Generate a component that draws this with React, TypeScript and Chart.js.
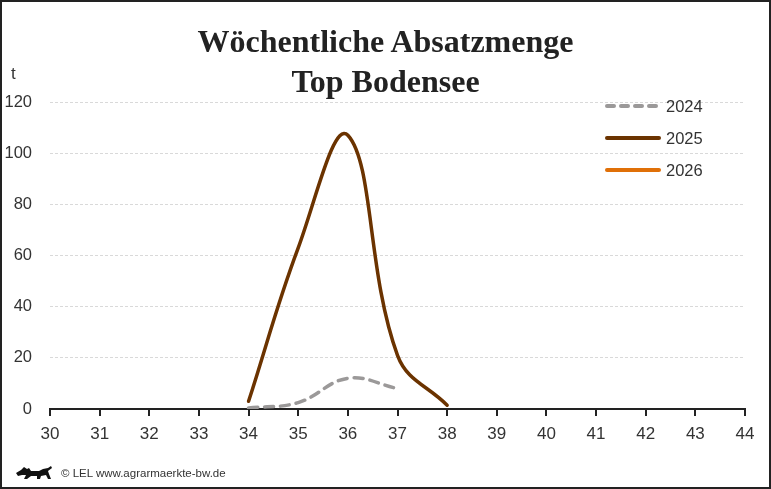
import React, { useEffect, useRef } from "react";
import { Chart, registerables } from "chart.js";

Chart.register(...registerables);

const weeks = ["30", "31", "32", "33", "34", "35", "36", "37", "38", "39", "40", "41", "42", "43", "44"];
const values2024 = [null, null, null, null, 0.4, 2.5, 12, 8, null, null, null, null, null, null, null];
const values2025 = [null, null, null, null, 3, 63, 107, 21, 1.5, null, null, null, null, null, null];
const values2026: (number | null)[] = [null, null, null, null, null, null, null, null, null, null, null, null, null, null, null];
const seriesNames = ["2024", "2025", "2026"];
const seriesColors = ["#9b9999", "#6b3300", "#e07008"];
const yTicks = [0, 20, 40, 60, 80, 100, 120];

const legendPlugin = {
  id: "customLegend",
  afterDraw(chart: any) {
    const ctx = chart.ctx;
    const x0 = 605;
    const ys = [106, 138, 170];
    ctx.save();
    chart.data.datasets.forEach((ds: any, i: number) => {
      ctx.beginPath();
      ctx.strokeStyle = ds.borderColor;
      ctx.lineWidth = 4;
      ctx.lineCap = "round";
      ctx.setLineDash(ds.borderDash && ds.borderDash.length ? [7, 7] : []);
      ctx.moveTo(x0 + 2, ys[i]);
      ctx.lineTo(x0 + 54, ys[i]);
      ctx.stroke();
      ctx.setLineDash([]);
      ctx.fillStyle = "#333";
      ctx.font = "16.5px 'Liberation Sans', Arial, sans-serif";
      ctx.textBaseline = "middle";
      ctx.textAlign = "left";
      ctx.fillText(ds.label, x0 + 61, ys[i] + 1);
    });
    ctx.restore();
  },
};

export default function App() {
  const ref = useRef<HTMLCanvasElement>(null);
  useEffect(() => {
    if (!ref.current) return;
    const chart = new Chart(ref.current, {
      type: "line",
      data: {
        labels: weeks,
        datasets: [
          {
            label: seriesNames[0],
            data: values2024,
            borderColor: seriesColors[0],
            borderWidth: 3.5,
            borderDash: [9, 7],
            borderCapStyle: "round",
            tension: 0.4,
            pointRadius: 0,
            spanGaps: false,
          },
          {
            label: seriesNames[1],
            data: values2025,
            borderColor: seriesColors[1],
            borderWidth: 3.5,
            borderCapStyle: "round",
            tension: 0.4,
            pointRadius: 0,
          },
          {
            label: seriesNames[2],
            data: values2026,
            borderColor: seriesColors[2],
            borderWidth: 3.5,
            tension: 0.4,
            pointRadius: 0,
          },
        ],
      } as any,
      options: {
        animation: false,
        responsive: false,
        maintainAspectRatio: false,
        layout: { padding: { left: 0, right: 26, top: 102, bottom: 0 } },
        plugins: { legend: { display: false }, tooltip: { enabled: false }, title: { display: false } },
        scales: {
          x: {
            type: "category",
            offset: false,
            grid: { display: true, drawOnChartArea: false, drawTicks: true, tickLength: 7, color: "#222", lineWidth: 2 },
            border: { display: true, color: "#222", width: 2 },
            ticks: {
              color: "#333",
              font: { family: "'Liberation Sans', Arial, sans-serif", size: 17 },
              padding: 8,
              maxRotation: 0,
              autoSkip: false,
            },
            afterFit(scale: any) {
              scale.height = 80;
            },
          },
          y: {
            min: 0,
            max: 120,
            afterBuildTicks(scale: any) {
              scale.ticks = yTicks.map((v) => ({ value: v }));
            },
            grid: { color: "#d9d9d9", lineWidth: 1, drawTicks: false },
            border: { display: false, dash: [3, 2] },
            ticks: {
              color: "#333",
              font: { family: "'Liberation Sans', Arial, sans-serif", size: 16.5 },
              padding: 18,
            },
            afterFit(scale: any) {
              scale.width = 50;
            },
          },
        },
      } as any,
      plugins: [legendPlugin],
    });
    return () => chart.destroy();
  }, []);

  return (
    <div
      style={{
        position: "absolute",
        left: 0,
        top: 0,
        width: 771,
        height: 489,
        boxSizing: "border-box",
        border: "2px solid #222",
        background: "#fff",
        overflow: "hidden",
      }}
    >
      <canvas ref={ref} width={771} height={489} style={{ position: "absolute", left: -2, top: -2, width: 771, height: 489 }} />
      <div
        style={{
          position: "absolute",
          left: -2,
          right: -2,
          top: 19,
          textAlign: "center",
          fontFamily: "'Liberation Serif', 'Times New Roman', serif",
          fontWeight: "bold",
          fontSize: 32,
          lineHeight: "40px",
          color: "#222",
        }}
      >
        Wöchentliche Absatzmenge
        <br />
        Top Bodensee
      </div>
      <div
        style={{
          position: "absolute",
          left: 9,
          top: 62,
          fontFamily: "'Liberation Sans', Arial, sans-serif",
          fontSize: 17,
          color: "#333",
        }}
      >
        t
      </div>
      <div
        style={{
          position: "absolute",
          left: 13,
          top: 462,
          display: "flex",
          alignItems: "center",
          gap: 8,
          fontFamily: "'Liberation Sans', Arial, sans-serif",
          fontSize: 11.5,
          color: "#333",
        }}
      >
        <svg width="38" height="18" viewBox="0 0 38 18">
          <path
            d="M1 9 L6 6 L9 3 L12 5 L14 4 L16 7 L24 7 L28 5 L33 4 L36 2 L37 4 L33 7 L34 10 L36 15 L33 15 L31 11 L26 12 L25 15 L22 15 L22 12 L16 12 L12 15 L9 15 L11 11 L7 11 L3 12 Z"
            fill="#111"
          />
        </svg>
        <span>© LEL www.agrarmaerkte-bw.de</span>
      </div>
    </div>
  );
}
